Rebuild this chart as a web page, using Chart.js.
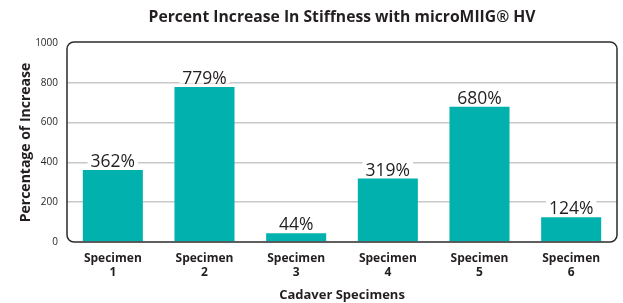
<!DOCTYPE html>
<html>
<head>
<meta charset="utf-8">
<script src="https://cdn.jsdelivr.net/npm/chart.js@4"></script>
<style>
  html, body { margin: 0; padding: 0; background: #fff; }
  #wrap { width: 623px; height: 303px; }
</style>
</head>
<body>
<div id="wrap"><canvas id="chart"></canvas></div>
<script>
const specimens = [['Specimen', '1'], ['Specimen', '2'], ['Specimen', '3'], ['Specimen', '4'], ['Specimen', '5'], ['Specimen', '6']];
const increase = [362, 779, 44, 319, 680, 124];
const yMax = 1000;
const yStep = 200;

const FONT = "'Open Sans', 'Noto Sans', sans-serif";
const INK = '#231f20';

// title centred over the plot box, not the whole canvas
const topTitle = {
  id: 'topTitle',
  afterDraw(chart) {
    const { ctx, chartArea } = chart;
    ctx.save();
    ctx.font = `bold 15.7px ${FONT}`;
    ctx.fillStyle = INK;
    ctx.textAlign = 'center';
    ctx.textBaseline = 'middle';
    ctx.fillText('Percent Increase In Stiffness with microMIIG® HV', (chartArea.left + chartArea.right) / 2, 18);
    ctx.restore();
  }
};

// value labels sit on a white patch that cuts the grid lines
const valueLabels = {
  id: 'valueLabels',
  afterDatasetsDraw(chart) {
    const { ctx } = chart;
    const meta = chart.getDatasetMeta(0);
    ctx.save();
    ctx.font = `17.5px ${FONT}`;
    ctx.textAlign = 'center';
    ctx.textBaseline = 'alphabetic';
    meta.data.forEach((bar, i) => {
      const txt = increase[i] + '%';
      const w = ctx.measureText(txt).width;
      const base = bar.y - 3;
      ctx.fillStyle = '#fff';
      ctx.fillRect(bar.x - w / 2 - 3, base - 14, w + 6, 13);
      ctx.fillStyle = INK;
      ctx.fillText(txt, bar.x, base);
    });
    ctx.restore();
  }
};

// rounded frame round the plot area
const frame = {
  id: 'frame',
  afterDraw(chart) {
    const { ctx, chartArea: a } = chart;
    ctx.save();
    ctx.strokeStyle = '#2b2b2b';
    ctx.lineWidth = 1.5;
    ctx.beginPath();
    ctx.roundRect(a.left, a.top - 1, a.right - a.left, a.bottom - a.top + 1, 7);
    ctx.stroke();
    ctx.restore();
  }
};

new Chart(document.getElementById('chart'), {
  type: 'bar',
  data: {
    labels: specimens,
    datasets: [{
      data: increase,
      backgroundColor: '#00b1ae',
      barPercentage: 0.655,
      categoryPercentage: 1
    }]
  },
  options: {
    responsive: true,
    maintainAspectRatio: false,
    animation: false,
    layout: { padding: { top: 43, right: 6, bottom: 0, left: 0 } },
    plugins: { legend: { display: false }, tooltip: { enabled: false } },
    scales: {
      x: {
        grid: { display: false },
        border: { display: false },
        ticks: { color: INK, font: { family: FONT, size: 12, weight: 'bold', lineHeight: 1.2 }, padding: 1, maxRotation: 0 },
        title: { display: true, text: 'Cadaver Specimens', color: INK, font: { family: FONT, size: 13, weight: 'bold' }, padding: 0 },
        afterFit(scale) { scale.height = 61; }
      },
      y: {
        min: 0,
        max: yMax,
        ticks: { stepSize: yStep, color: INK, font: { family: FONT, size: 10 }, padding: 9, callback: v => String(v) },
        grid: {
          drawTicks: false,
          lineWidth: 1.5,
          color: c => (c.tick && (c.tick.value === 0 || c.tick.value === yMax)) ? 'transparent' : '#c8c8c8'
        },
        border: { display: false },
        title: { display: true, text: 'Percentage of Increase', color: INK, font: { family: FONT, size: 14, weight: 'bold' }, padding: { top: 18, bottom: 0 } },
        afterFit(scale) { scale.width = 67; }
      }
    }
  },
  plugins: [topTitle, valueLabels, frame]
});
</script>
</body>
</html>
